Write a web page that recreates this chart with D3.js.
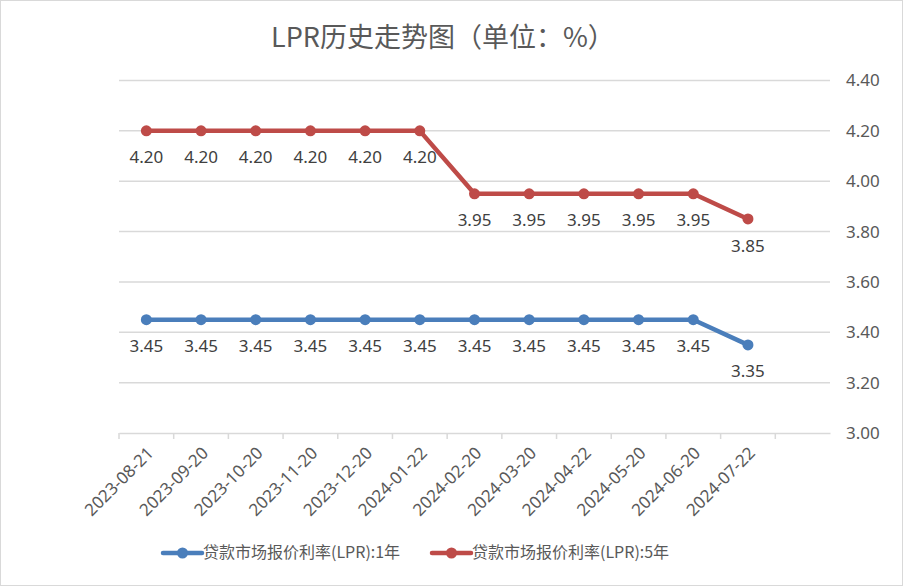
<!DOCTYPE html>
<html>
<head>
<meta charset="utf-8">
<script src="https://cdn.jsdelivr.net/npm/d3@7/dist/d3.min.js"></script>
<style>
  html, body { margin: 0; padding: 0; background: #fff; }
  svg { display: block; }
</style>
</head>
<body>
<svg id="chart" width="903" height="586"></svg>
<script>
const title = "LPR历史走势图（单位：%）";
const categories = ["2023-08-21","2023-09-20","2023-10-20","2023-11-20","2023-12-20","2024-01-22","2024-02-20","2024-03-20","2024-04-22","2024-05-20","2024-06-20","2024-07-22"];
const lpr1y = [3.45,3.45,3.45,3.45,3.45,3.45,3.45,3.45,3.45,3.45,3.45,3.35];
const lpr5y = [4.20,4.20,4.20,4.20,4.20,4.20,3.95,3.95,3.95,3.95,3.95,3.85];
const yTicks = [3.00,3.20,3.40,3.60,3.80,4.00,4.20,4.40];
const seriesNames = ["贷款市场报价利率(LPR):1年","贷款市场报价利率(LPR):5年"];
const seriesColors = ["#4a7ebb","#be4b48"];

const svg = d3.select("#chart");
const W = 903, H = 586;
const plot = {left: 119, right: 830, top: 80.5, bottom: 433};
const numFont = "'Noto Sans', 'Open Sans', sans-serif";
const cjkFont = "'Noto Sans CJK SC', 'Noto Sans', sans-serif";
const textColor = "#595959";
const gridColor = "#d9d9d9";

// border
svg.append("rect").attr("x",0.5).attr("y",0.5).attr("width",W-1).attr("height",H-1)
  .attr("fill","#fff").attr("stroke",gridColor).attr("stroke-width",1);

// title
svg.append("text").attr("x",443).attr("y",47).attr("text-anchor","middle")
  .attr("font-family",cjkFont).attr("font-size",27).attr("fill",textColor).text(title);

// scales: one extra empty slot after the last category (as in the reference)
const x = d3.scaleBand().domain(d3.range(categories.length + 1)).range([plot.left, plot.right]);
const y = d3.scaleLinear().domain([3.0, 4.4]).range([plot.bottom, plot.top]);
const cx = i => x(i) + x.bandwidth()/2;

// gridlines
svg.append("g").selectAll("line").data(yTicks.slice(1)).join("line")
  .attr("x1",plot.left).attr("x2",plot.right)
  .attr("y1",d=>y(d)).attr("y2",d=>y(d))
  .attr("stroke",gridColor).attr("stroke-width",1.5);

// right axis labels
const yAxis = d3.axisRight(y).tickValues(yTicks).tickFormat(d3.format(".2f")).tickSize(0).tickPadding(16);
const yg = svg.append("g").attr("transform",`translate(${plot.right},0)`).call(yAxis);
yg.select(".domain").remove();
yg.selectAll("text").attr("font-family",numFont).attr("font-size",17).attr("fill",textColor);

// x axis
const xAxis = d3.axisBottom(x).tickValues([]).tickSizeOuter(0);
const xg = svg.append("g").attr("transform",`translate(0,${plot.bottom})`).call(xAxis);
xg.select(".domain").attr("stroke",gridColor).attr("stroke-width",1.5);
// ticks at band boundaries
xg.selectAll("line.bt").data(d3.range(categories.length + 1)).join("line").attr("class","bt")
  .attr("x1",d=>x(d)).attr("x2",d=>x(d)).attr("y1",0).attr("y2",6)
  .attr("stroke",gridColor).attr("stroke-width",1.5);
// rotated labels
svg.append("g").selectAll("text").data(categories).join("text")
  .attr("transform",(d,i)=>`translate(${cx(i)+5},${plot.bottom+18}) rotate(-45)`)
  .attr("text-anchor","end").attr("dominant-baseline","middle")
  .attr("font-family",numFont).attr("font-size",17).attr("fill",textColor)
  .text(d=>d);

// lines
const line = d3.line().x((d,i)=>cx(i)).y(d=>y(d));
[lpr1y, lpr5y].forEach((vals, s) => {
  const g = svg.append("g");
  g.append("path").datum(vals).attr("d",line).attr("fill","none")
    .attr("stroke",seriesColors[s]).attr("stroke-width",4.5)
    .attr("stroke-linejoin","round").attr("stroke-linecap","round");
  g.selectAll("circle").data(vals).join("circle")
    .attr("cx",(d,i)=>cx(i)).attr("cy",d=>y(d)).attr("r",5.5).attr("fill",seriesColors[s]);
  g.selectAll("text").data(vals).join("text")
    .attr("x",(d,i)=>cx(i)).attr("y",d=>y(d)+28)
    .attr("text-anchor","middle").attr("dominant-baseline","middle")
    .attr("font-family",numFont).attr("font-size",17).attr("fill","#404040")
    .text(d=>d3.format(".2f")(d));
});

// legend
const legendX = [163, 432];
const legendY = 553;
seriesNames.forEach((name, s) => {
  const lg = svg.append("g").attr("transform",`translate(${legendX[s]},${legendY})`);
  lg.append("line").attr("x1",0).attr("x2",39).attr("y1",0).attr("y2",0)
    .attr("stroke",seriesColors[s]).attr("stroke-width",4.5).attr("stroke-linecap","round");
  lg.append("circle").attr("cx",19.5).attr("cy",0).attr("r",5.5).attr("fill",seriesColors[s]);
  lg.append("text").attr("x",40).attr("y",1).attr("dominant-baseline","middle")
    .attr("font-family",cjkFont).attr("font-size",16).attr("fill",textColor).text(name);
});
</script>
</body>
</html>
